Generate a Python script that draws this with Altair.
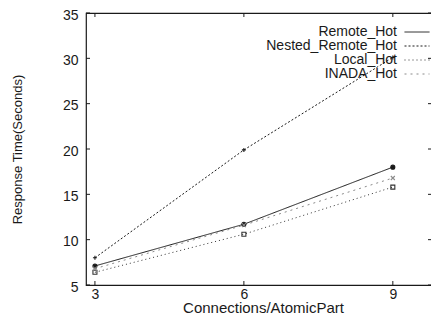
import altair as alt
import pandas as pd

connections = [3, 6, 9]
series_names = ["Remote_Hot", "Nested_Remote_Hot", "Local_Hot", "INADA_Hot"]
remote_hot = [7.1, 11.7, 18.0]
nested_remote_hot = [8.0, 19.9, 30.1]
local_hot = [6.4, 10.6, 15.8]
inada_hot = [6.8, 11.6, 16.8]

y_ticks = [5, 10, 15, 20, 25, 30, 35]
x_ticks = [3, 6, 9]

rows = []
for name, vals in zip(series_names, [remote_hot, nested_remote_hot, local_hot, inada_hot]):
    for c, v in zip(connections, vals):
        rows.append({"conn": c, "time": v, "series": name})
df = pd.DataFrame(rows)

W, H = 354, 272
FONT = "Liberation Sans"
INK = "#1a1a1a"

line_colors = [INK, INK, "#333333", "#8a8a8a"]
marker_shapes = ["circle", "M-1,0H1M0,-1V1", "square", "M-1,-1L1,1M-1,1L1,-1"]
marker_fills = [INK, "transparent", "transparent", "transparent"]

xscale = alt.Scale(domain=[2.82, 9.95], nice=False, zero=False)
yscale = alt.Scale(domain=[5, 35], nice=False, zero=False)

dash_scale = alt.Scale(domain=series_names,
                       range=[[1, 0], [2, 2], [1, 3], [2, 4]])
color_scale = alt.Scale(domain=series_names, range=line_colors)

legend = alt.Legend(
    title=None, orient="none",
    legendX=324, legendY=12,
    symbolType="M-2.5,0H2.5", symbolSize=100,
    symbolStrokeWidth=1,
    labelAlign="right",
    labelOffset={"expr": "-27"},
    labelFontSize=14, labelFont=FONT,
    labelColor=INK, rowPadding=0,
    labelLimit=300)

x_enc = alt.X("conn:Q", scale=xscale,
              axis=alt.Axis(values=x_ticks, title="Connections/AtomicPart",
                            grid=False, ticks=False, domain=False,
                            labelFontSize=14, labelFont=FONT, labelColor=INK,
                            labelPadding=2, titleFontSize=15, titleFont=FONT,
                            titleFontWeight="normal", titleColor=INK,
                            titleBaseline="alphabetic", titleY=27))
y_enc = alt.Y("time:Q", scale=yscale,
              axis=alt.Axis(values=y_ticks, title="Response Time(Seconds)",
                            grid=False, ticks=False, domain=False,
                            labelFontSize=14, labelFont=FONT, labelColor=INK,
                            labelPadding=8, labelOffset=2,
                            titleFontSize=13, titleFont=FONT,
                            titleFontWeight="normal", titleColor=INK,
                            titlePadding=38))

lines = alt.Chart(df).mark_line(strokeWidth=1).encode(
    x=x_enc,
    y=y_enc,
    strokeDash=alt.StrokeDash("series:N", scale=dash_scale, legend=legend),
    color=alt.Color("series:N", scale=color_scale, legend=legend),
)

point_layers = []
for name, shp, fil, col in zip(series_names, marker_shapes, marker_fills, line_colors):
    point_layers.append(
        alt.Chart(df).transform_filter(alt.datum.series == name)
        .mark_point(size=16, strokeWidth=1.1, shape=shp, fill=fil,
                    stroke=col, opacity=1)
        .encode(x="conn:Q", y="time:Q")
    )

ydf = pd.DataFrame({"t": y_ticks})
xdf = pd.DataFrame({"t": x_ticks})

left_ticks = alt.Chart(ydf).mark_rule(color=INK, strokeWidth=1).encode(
    y=alt.Y("t:Q", scale=yscale), x=alt.value(0), x2=alt.value(4))
right_ticks = alt.Chart(ydf).mark_rule(color=INK, strokeWidth=1).encode(
    y=alt.Y("t:Q", scale=yscale), x=alt.value(W - 12), x2=alt.value(W - 9))
bottom_ticks = alt.Chart(xdf).mark_rule(color=INK, strokeWidth=1).encode(
    x=alt.X("t:Q", scale=xscale), y=alt.value(H - 4), y2=alt.value(H))
top_ticks = alt.Chart(xdf).mark_rule(color=INK, strokeWidth=1).encode(
    x=alt.X("t:Q", scale=xscale), y=alt.value(0), y2=alt.value(4))

chart = alt.layer(
    left_ticks, right_ticks, bottom_ticks, top_ticks, lines, *point_layers
).resolve_scale(x="shared", y="shared").properties(
    width=W, height=H,
    autosize=alt.AutoSizeParams(type="none"),
    padding={"left": 78, "top": 5, "right": -9, "bottom": 29},
    background="white",
).configure_view(stroke=INK, strokeWidth=1.2)

chart.save("out.html", embed_options={"renderer": "svg", "actions": False})
